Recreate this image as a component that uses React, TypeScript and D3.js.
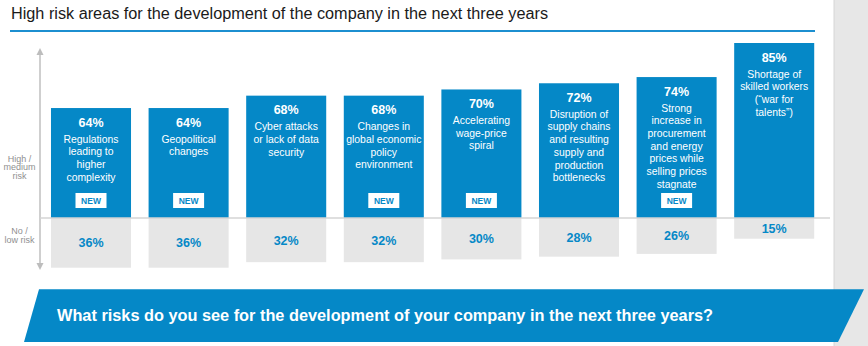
import React from "react";
import * as d3 from "d3";

const labelLines: string[][] = [
  ["Regulations", "leading to", "higher", "complexity"],
  ["Geopolitical", "changes"],
  ["Cyber attacks", "or lack of data", "security"],
  ["Changes in", "global economic", "policy", "environment"],
  ["Accelerating", "wage-price", "spiral"],
  ["Disruption of", "supply chains", "and resulting", "supply and", "production", "bottlenecks"],
  ["Strong", "increase in", "procurement", "and energy", "prices while", "selling prices", "stagnate"],
  ["Shortage of", "skilled workers", "(\u201Cwar for", "talents\u201D)"],
];
const categories = labelLines.map((l) => l.join(" "));
const highRisk = [64, 64, 68, 68, 70, 72, 74, 85];
const lowRisk = [36, 36, 32, 32, 30, 28, 26, 15];
const isNew = [true, true, false, true, true, false, true, false];
const title = "High risk areas for the development of the company in the next three years";
const question = "What risks do you see for the development of your company in the next three years?";
const axisHigh = ["High /", "medium", "risk"];
const axisLow = ["No /", "low risk"];

const W = 868;
const H = 346;
const BLUE = "#0588c7";
const GRAY = "#e6e6e6";
const FONT = "'Liberation Sans', Arial, sans-serif";

export default function App() {
  const baseline = 218;
  const x = d3.scaleBand<string>().domain(categories).range([42.2, 823]).paddingInner(0.18).paddingOuter(0.09);
  const yHigh = d3.scaleLinear().domain([28.5, 85]).range([baseline, 43]);
  const yLow = d3.scaleLinear().domain([0, 36]).range([baseline, baseline + 49.7]);
  const bw = x.bandwidth();

  return (
    <svg width={W} height={H} style={{ position: "absolute", left: 0, top: 0, fontFamily: FONT }}>
      <rect x={0} y={0} width={W} height={H} fill="#fff" />
      {/* right gray panel */}
      <rect x={834} y={0} width={W - 834} height={H} fill="#e7e7e7" />
      <line x1={834} x2={834} y1={0} y2={H} stroke="#d6d6d6" strokeWidth={1} />

      {/* title */}
      <text x={11} y={19} fontSize={16} fill="#1a1a1a" textLength={537} lengthAdjust="spacingAndGlyphs">{title}</text>
      <line x1={10} x2={815} y1={31} y2={31} stroke="#1c8fd0" strokeWidth={2} />

      {/* axis */}
      <line x1={40} x2={40} y1={54} y2={265} stroke="#cfcfcf" strokeWidth={2} />
      <path d={`M40,48 L43.5,55 L36.5,55 Z`} fill="#bdbdbd" />
      <path d={`M40,270 L43.5,263 L36.5,263 Z`} fill="#bdbdbd" />
      {axisHigh.map((t, i) => (
        <text key={t} x={19.5} y={161.5 + i * 8.7} fontSize={9} fill="#8f8f8f" textAnchor="middle">{t}</text>
      ))}
      {axisLow.map((t, i) => (
        <text key={t} x={19.5} y={234.2 + i * 9} fontSize={9} fill="#8f8f8f" textAnchor="middle">{t}</text>
      ))}

      {/* bars */}
      {categories.map((c, i) => {
        const x0 = x(c)!;
        const cx = x0 + bw / 2;
        const top = yHigh(highRisk[i]);
        const bottom = yLow(lowRisk[i]);
        return (
          <g key={c}>
            <rect x={x0} y={top} width={bw} height={baseline - top} fill={BLUE} />
            <rect x={x0} y={baseline} width={bw} height={bottom - baseline} fill={GRAY} />
            <text x={cx} y={top + 18.5} fontSize={12.5} fontWeight="bold" fill="#fff" textAnchor="middle">
              {highRisk[i]}%
            </text>
            {labelLines[i].map((t, j) => (
              <text key={j} x={cx} y={top + 34.5 + j * 12.7} fontSize={10.4} fill="#fff" textAnchor="middle">
                {t}
              </text>
            ))}
            {isNew[i] && (
              <g>
                <rect x={cx - 15.5} y={baseline - 25} width={31} height={15} fill="#fff" />
                <text x={cx} y={baseline - 14} fontSize={8.5} fontWeight="bold" fill={BLUE} textAnchor="middle">
                  NEW
                </text>
              </g>
            )}
            <text x={cx} y={(baseline + bottom) / 2 + 4.5} fontSize={12.5} fontWeight="bold" fill={BLUE} textAnchor="middle">
              {lowRisk[i]}%
            </text>
          </g>
        );
      })}
      <line x1={40} x2={830} y1={baseline} y2={baseline} stroke="#d4d4d4" strokeWidth={1.5} />

      {/* bottom band */}
      <path d="M39,289.3 L864,289.3 L838,342 L24,342 Z" fill={BLUE} />
      <text x={57} y={321} fontSize={16} fontWeight="bold" fill="#fff" textLength={656} lengthAdjust="spacingAndGlyphs">{question}</text>
    </svg>
  );
}
